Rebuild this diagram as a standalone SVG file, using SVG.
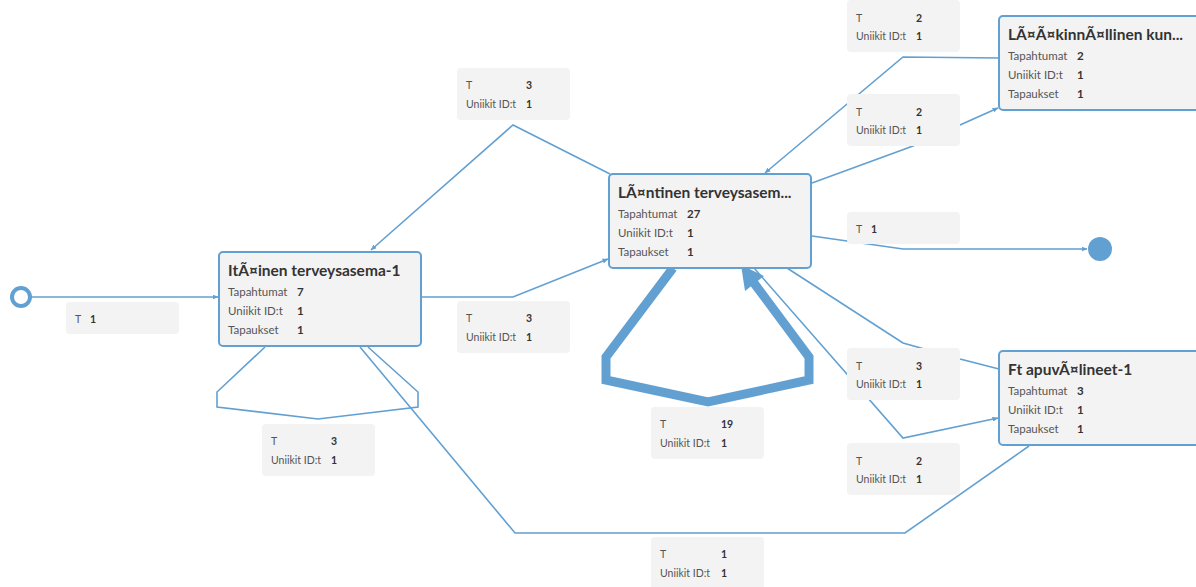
<svg xmlns="http://www.w3.org/2000/svg" width="1196" height="587" viewBox="0 0 1196 587">
<style>
.bg{fill:#ffffff}
.edge{fill:none;stroke:#62a0d2;stroke-width:1.6;stroke-linejoin:miter}
.thick{fill:none;stroke:#62a0d2;stroke-width:9;stroke-linejoin:miter}
.lbl{fill:#f3f3f3}
.node rect{fill:#f3f3f3;stroke:#62a0d2;stroke-width:2}
text{font-family:"Lato","Open Sans","Liberation Sans",sans-serif;fill:#444}
.title{font-size:15.5px;font-weight:bold;fill:#333}
.k{font-size:11.5px;fill:#555}
.v{font-size:11.5px;font-weight:bold;fill:#333}
.lk{font-size:10.5px;fill:#555}
.lv{font-size:10.5px;font-weight:bold;fill:#333}
</style>
<defs>
<marker id="arr" markerWidth="6" markerHeight="5" refX="5.5" refY="2.5" orient="auto" markerUnits="userSpaceOnUse">
<path d="M0,0 L6,2.5 L0,5 z" fill="#62a0d2"/>
</marker>
</defs>
<rect class="bg" x="0" y="0" width="1196" height="587"/>
<g id="connectors">
<path class="edge" d="M31,297 L218,297" marker-end="url(#arr)"/>
<path class="edge" d="M421,297 L513,297 L608,259" marker-end="url(#arr)"/>
<path class="edge" d="M610,174 L513,125 L371,250" marker-end="url(#arr)"/>
<path class="edge" d="M368,347 L418,392 L418,407 L318,419 L217,407 L217,392 L265,347"/>
<path class="edge" d="M360,347 L515,533 L905,533 L1029,446"/>
<path class="thick" d="M673,268 L606,357 L606,380 L708,402 L809,380 L809,357 L751,279"/>
<polygon points="741,265 764,276 745,291" fill="#62a0d2"/>
<path class="edge" d="M999,58 L903,57 L765,173" marker-end="url(#arr)"/>
<path class="edge" d="M812,183 L913,146 L998,108" marker-end="url(#arr)"/>
<path class="edge" d="M812,236 L903,249 L1087,249" marker-end="url(#arr)"/>
<path class="edge" d="M999,369 L960,359 L903,343 L787,268"/>
<path class="edge" d="M754,268 L903,438 L998,418" marker-end="url(#arr)"/>
</g>
<g id="edge-labels">
<g id="lbl-start"><rect class="lbl" x="66" y="302" width="113" height="32" rx="4"/><text class="lk" x="75" y="323">T</text><text class="lv" x="90" y="323">1</text></g>
<g id="lbl-n2n1"><rect class="lbl" x="457" y="68" width="113" height="52" rx="4"/><text class="lk" x="466" y="89">T</text><text class="lv" x="526" y="89">3</text><text class="lk" x="466" y="108">Uniikit ID:t</text><text class="lv" x="526" y="108">1</text></g>
<g id="lbl-n1n2"><rect class="lbl" x="457" y="301" width="113" height="52" rx="4"/><text class="lk" x="466" y="322">T</text><text class="lv" x="526" y="322">3</text><text class="lk" x="466" y="341">Uniikit ID:t</text><text class="lv" x="526" y="341">1</text></g>
<g id="lbl-n1loop"><rect class="lbl" x="262" y="424" width="113" height="52" rx="4"/><text class="lk" x="271" y="445">T</text><text class="lv" x="331" y="445">3</text><text class="lk" x="271" y="464">Uniikit ID:t</text><text class="lv" x="331" y="464">1</text></g>
<g id="lbl-n2loop"><rect class="lbl" x="651" y="407" width="113" height="52" rx="4"/><text class="lk" x="660" y="428">T</text><text class="lv" x="721" y="428">19</text><text class="lk" x="660" y="447">Uniikit ID:t</text><text class="lv" x="721" y="447">1</text></g>
<g id="lbl-n1n4"><rect class="lbl" x="651" y="537" width="113" height="52" rx="4"/><text class="lk" x="660" y="558">T</text><text class="lv" x="721" y="558">1</text><text class="lk" x="660" y="577">Uniikit ID:t</text><text class="lv" x="721" y="577">1</text></g>
<g id="lbl-n3n2"><rect class="lbl" x="847" y="0" width="113" height="52" rx="4"/><text class="lk" x="856" y="22">T</text><text class="lv" x="916" y="22">2</text><text class="lk" x="856" y="40">Uniikit ID:t</text><text class="lv" x="916" y="40">1</text></g>
<g id="lbl-n2n3"><rect class="lbl" x="847" y="94" width="113" height="52" rx="4"/><text class="lk" x="856" y="116">T</text><text class="lv" x="916" y="116">2</text><text class="lk" x="856" y="134">Uniikit ID:t</text><text class="lv" x="916" y="134">1</text></g>
<g id="lbl-n2end"><rect class="lbl" x="847" y="212" width="113" height="32" rx="4"/><text class="lk" x="856" y="233">T</text><text class="lv" x="871" y="233">1</text></g>
<g id="lbl-n4n2"><rect class="lbl" x="847" y="348" width="113" height="52" rx="4"/><text class="lk" x="856" y="370">T</text><text class="lv" x="916" y="370">3</text><text class="lk" x="856" y="388">Uniikit ID:t</text><text class="lv" x="916" y="388">1</text></g>
<g id="lbl-n2n4"><rect class="lbl" x="847" y="443" width="113" height="52" rx="4"/><text class="lk" x="856" y="465">T</text><text class="lv" x="916" y="465">2</text><text class="lk" x="856" y="483">Uniikit ID:t</text><text class="lv" x="916" y="483">1</text></g>
</g>
<g id="start"><circle cx="21" cy="297" r="9" fill="#ffffff" stroke="#62a0d2" stroke-width="4"/></g>
<g id="end"><circle cx="1100" cy="249" r="12" fill="#62a0d2"/></g>
<g id="node1" class="node"><rect x="219" y="252" width="202" height="94" rx="4"/><text class="title" x="228" y="276">ItÃ¤inen terveysasema-1</text><text class="k" x="228" y="296">Tapahtumat</text><text class="v" x="297" y="296">7</text><text class="k" x="228" y="315">Uniikit ID:t</text><text class="v" x="297" y="315">1</text><text class="k" x="228" y="334">Tapaukset</text><text class="v" x="297" y="334">1</text></g>
<g id="node2" class="node"><rect x="609" y="174" width="202" height="94" rx="4"/><text class="title" x="618" y="198">LÃ¤ntinen terveysasem...</text><text class="k" x="618" y="218">Tapahtumat</text><text class="v" x="687" y="218">27</text><text class="k" x="618" y="237">Uniikit ID:t</text><text class="v" x="687" y="237">1</text><text class="k" x="618" y="256">Tapaukset</text><text class="v" x="687" y="256">1</text></g>
<g id="node3" class="node"><rect x="999" y="16" width="202" height="94" rx="4"/><text class="title" x="1008" y="40">LÃ¤Ã¤kinnÃ¤llinen kun...</text><text class="k" x="1008" y="60">Tapahtumat</text><text class="v" x="1077" y="60">2</text><text class="k" x="1008" y="79">Uniikit ID:t</text><text class="v" x="1077" y="79">1</text><text class="k" x="1008" y="98">Tapaukset</text><text class="v" x="1077" y="98">1</text></g>
<g id="node4" class="node"><rect x="999" y="351" width="202" height="94" rx="4"/><text class="title" x="1008" y="375">Ft apuvÃ¤lineet-1</text><text class="k" x="1008" y="395">Tapahtumat</text><text class="v" x="1077" y="395">3</text><text class="k" x="1008" y="414">Uniikit ID:t</text><text class="v" x="1077" y="414">1</text><text class="k" x="1008" y="433">Tapaukset</text><text class="v" x="1077" y="433">1</text></g>
</svg>
